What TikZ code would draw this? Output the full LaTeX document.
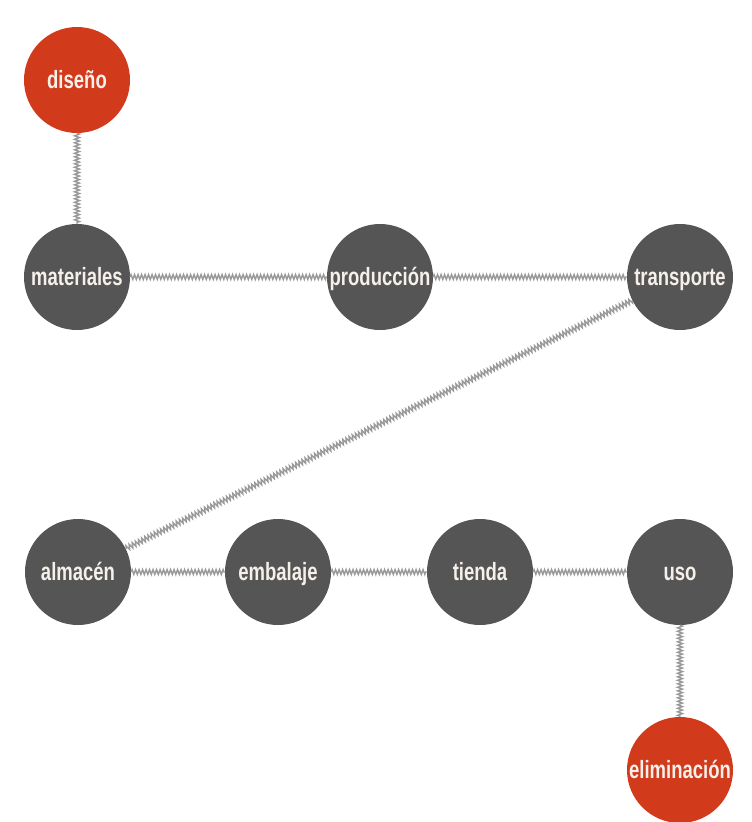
\documentclass[tikz,border=0pt]{standalone}
\usepackage{fontspec}
\newfontfamily\cond[FakeStretch=0.74]{Liberation Sans}
\usetikzlibrary{decorations.pathmorphing}
\definecolor{redn}{HTML}{D23A1C}
\definecolor{grayn}{HTML}{555555}
\definecolor{linkc}{HTML}{9A9A9A}
\definecolor{txt}{HTML}{F6F0EA}
\tikzset{
  stage/.style={circle, fill=grayn, minimum size=106pt, inner sep=0pt, text=txt,
    font=\cond\bfseries\fontsize{25}{28}\selectfont, text height=18pt, text depth=2pt},
  endstage/.style={stage, fill=redn},
  link/.style={draw=linkc, line width=1.4pt, decorate, decoration={zigzag, amplitude=2.5pt, segment length=3.5pt}}
}
\begin{document}
\begin{tikzpicture}[x=1pt,y=-1pt]
\useasboundingbox (0,0) rectangle (752,822);
\node[endstage] (dis) at (77,80) {diseño};
\node[stage] (mat) at (77,277) {materiales};
\node[stage] (pro) at (380,277) {producción};
\node[stage] (tra) at (680,277) {transporte};
\node[stage] (alm) at (78,572) {almacén};
\node[stage] (emb) at (278,572) {embalaje};
\node[stage] (tie) at (480,572) {tienda};
\node[stage] (uso) at (680,572) {uso};
\node[endstage] (eli) at (680,770) {eliminación};
\path[link] (dis) -- (mat);
\path[link] (mat) -- (pro);
\path[link] (pro) -- (tra);
\path[link] (tra) -- (alm);
\path[link] (alm) -- (emb);
\path[link] (emb) -- (tie);
\path[link] (tie) -- (uso);
\path[link] (uso) -- (eli);
\end{tikzpicture}
\end{document}
